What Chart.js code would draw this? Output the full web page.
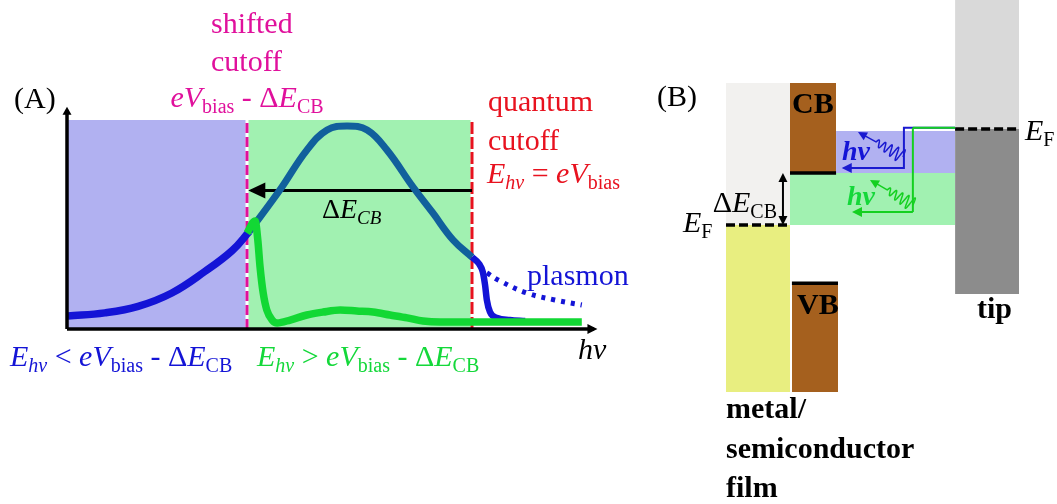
<!DOCTYPE html>
<html>
<head>
<meta charset="utf-8">
<script src="https://cdn.jsdelivr.net/npm/chart.js@4.4.1/dist/chart.umd.min.js"></script>
<style>
  html, body { margin: 0; padding: 0; background: #ffffff; }
  #wrap { position: relative; width: 1057px; height: 504px; overflow: hidden; }
  canvas { position: absolute; left: 0; top: 0; }
</style>
</head>
<body>
<div id="wrap">
  <canvas id="spectrum" width="1057" height="504"></canvas>
  <canvas id="bands" width="1057" height="504"></canvas>
</div>
<script>
// ---------- (A) light emission spectrum: intensity vs photon energy hν ----------
const shiftedCutoff = 4.0;   // eV_bias - ΔE_CB
const quantumCutoff = 9.0;   // eV_bias
const regionTop = 1.0;
const hvAxisEnd = 11.71;
const intensityAxisEnd = 1.048;
const deltaArrowLevel = 0.662;

// emission below the shifted cutoff (blue)
const tailHv = [0.02, 0.84, 1.58, 2.33, 3.07, 3.67, 4.05];
const tailI  = [0.062, 0.077, 0.108, 0.172, 0.276, 0.375, 0.466];

// spectrum continuing between the two cutoffs
const bellHv = [4.05, 4.73, 5.33, 5.78, 6.22, 6.67, 7.11, 7.69, 8.13, 8.58, 9.0];
const bellI  = [0.466, 0.665, 0.856, 0.952, 0.971, 0.952, 0.856, 0.679, 0.555, 0.426, 0.344];

// emission above the shifted cutoff (green)
const greenHv = [4.0, 4.18, 4.24, 4.29, 4.36, 4.44, 4.56, 4.67, 4.96, 5.33, 5.69, 6.07, 6.44, 6.8, 7.18, 7.56, 7.91, 8.29, 9.02, 11.44];
const greenI  = [0.459, 0.517, 0.426, 0.297, 0.172, 0.091, 0.043, 0.029, 0.043, 0.067, 0.081, 0.091, 0.086, 0.081, 0.067, 0.053, 0.038, 0.033, 0.033, 0.033];

// drop at the quantum cutoff
const dropHv = [9.0, 9.16, 9.24, 9.29, 9.33, 9.4, 9.56, 9.84, 10.18];
const dropI  = [0.344, 0.311, 0.273, 0.211, 0.139, 0.081, 0.053, 0.043, 0.038];

// plasmon tail beyond the cutoff
const plasmonHv = [9.33, 9.62, 10.22, 10.84, 11.44];
const plasmonI  = [0.268, 0.230, 0.172, 0.139, 0.115];

// ---------- (B) band diagram: energy (eV) relative to film Fermi level ----------
const filmEF = 0;
const cbEdge = 0.5;          // ΔE_CB
const cbTop = 1.365;
const vbEdge = -0.56;
const bandBottom = -1.606;
const windowTop = 0.904;
const tipEF = 0.923;
const tipTop = 2.163;
const tipBottom = -0.663;
const metalCols = [0, 1];
const semiCols = [1, 1.72];
const vbCols = [1.03, 1.75];
const gapCols = [1.72, 3.58];
const tipCols = [3.58, 4.58];
const deltaArrowX = 0.89;

// tunnelling paths and emitted photons
const bluePathX = [3.58, 2.78, 2.78, 1.84];
const bluePathE = [0.935, 0.935, 0.548, 0.548];
const greenPathX = [3.58, 2.92, 2.92, 2.0];
const greenPathE = [0.935, 0.935, 0.125, 0.125];
const photonBlue = [[2.766, 0.654], [2.0625, 0.894]];
const photonGreen = [[2.922, 0.192], [2.25, 0.433]];

const MAGENTA = '#e0109c';
const RED = '#e8121f';
const BLUE = '#1414d6';
const STEEL = '#11609c';
const GREEN = '#12d834';
const GREEN_TXT = '#14d83a';
const LAVENDER = '#b1b1f1';
const MINT = '#a1f1b1';
const BROWN = '#a5601e';

const pts = (xs, ys) => xs.map((x, i) => ({ x, y: ys[i] }));

function curve(xs, ys, color, width, order, extra) {
  return Object.assign({
    data: pts(xs, ys), borderColor: color, borderWidth: width,
    pointRadius: 0, fill: false, tension: 0.4,
    clip: false, order
  }, extra || {});
}
function seg(xs, ys, color, width, order, extra) {
  return Object.assign({
    data: pts(xs, ys), borderColor: color, borderWidth: width,
    pointRadius: 0, fill: false, tension: 0, clip: false, order
  }, extra || {});
}
function block(x0, x1, y0, y1, color, order) {
  return {
    data: [{ x: x0, y: y1 }, { x: x1, y: y1 }],
    fill: { target: { value: y0 } }, backgroundColor: color,
    borderWidth: 0, pointRadius: 0, tension: 0, clip: false, order
  };
}

// rich text: parts are [text, style] with i = italic, b = bold, s = subscript
function drawRich(ctx, lbl, px, py) {
  const size = lbl.size || 30;
  const sub = Math.round(size * 0.667);
  const drop = Math.round(size * 0.2);
  const fontFor = st => (st.includes('i') ? 'italic ' : '') + (st.includes('b') ? 'bold ' : '') +
    (st.includes('s') ? sub : size) + 'px "Liberation Serif", "Times New Roman", serif';
  let total = 0;
  const widths = lbl.parts.map(([t, st]) => { ctx.font = fontFor(st); const w = ctx.measureText(t).width; total += w; return w; });
  let x = px;
  if (lbl.align === 'center') x -= total / 2;
  else if (lbl.align === 'right') x -= total;
  ctx.fillStyle = lbl.color || '#000';
  ctx.textAlign = 'left';
  ctx.textBaseline = 'alphabetic';
  lbl.parts.forEach(([t, st], i) => {
    ctx.font = fontFor(st);
    ctx.fillText(t, x, py + (st.includes('s') ? drop : 0));
    x += widths[i];
  });
}

function head(ctx, tip, dir, len, hw, color) {
  const nx = -dir.y, ny = dir.x;
  ctx.beginPath();
  ctx.moveTo(tip.x, tip.y);
  ctx.lineTo(tip.x - dir.x * len + nx * hw, tip.y - dir.y * len + ny * hw);
  ctx.lineTo(tip.x - dir.x * len - nx * hw, tip.y - dir.y * len - ny * hw);
  ctx.closePath();
  ctx.fillStyle = color;
  ctx.fill();
}

function arrowAt(ctx, a, b, ds) {
  const dx = b.x - a.x, dy = b.y - a.y, L = Math.hypot(dx, dy) || 1;
  const dir = { x: dx / L, y: dy / L };
  const len = ds.arrow.len, hw = ds.arrow.hw;
  const ext = (ds.borderWidth / 2) * len / hw;
  head(ctx, { x: b.x + dir.x * ext, y: b.y + dir.y * ext }, dir, len, hw, ds.arrow.color || ds.borderColor);
}

// wavy photon arrow: squiggle leaving the tunnelling path, then a straight run to the head
function drawPhoton(ctx, s, t, color) {
  const dx = t.x - s.x, dy = t.y - s.y, L = Math.hypot(dx, dy);
  const ux = dx / L, uy = dy / L, nx = -uy, ny = ux;
  const waveLen = L * 0.6, periods = 4.5, steps = 200;
  ctx.save();
  ctx.strokeStyle = color;
  ctx.lineWidth = 1.5;
  ctx.lineJoin = 'round';
  ctx.beginPath();
  for (let i = 0; i <= steps; i++) {
    const f = i / steps;
    const d = waveLen * f;
    const amp = 7.5 - 4.5 * f;
    const w = amp * Math.sin(2 * Math.PI * periods * f);
    const x = s.x + ux * d + nx * w, y = s.y + uy * d + ny * w;
    if (i === 0) ctx.moveTo(x, y); else ctx.lineTo(x, y);
  }
  ctx.lineTo(t.x - ux * 6, t.y - uy * 6);
  ctx.stroke();
  head(ctx, t, { x: ux, y: uy }, 9, 4.5, color);
  ctx.restore();
}

const decor = {
  id: 'decor',
  afterDatasetsDraw(chart, args, opts) {
    const ctx = chart.ctx;
    ctx.save();
    chart.data.datasets.forEach((ds, i) => {
      if (!ds.arrow) return;
      const p = chart.getDatasetMeta(i).data;
      const n = p.length;
      if (ds.arrow.end) arrowAt(ctx, p[n - 2], p[n - 1], ds);
      if (ds.arrow.start) arrowAt(ctx, p[1], p[0], ds);
    });
    const xs = chart.scales.x, ys = chart.scales.y;
    (opts.photons || []).forEach(ph => {
      drawPhoton(ctx,
        { x: xs.getPixelForValue(ph.from[0]), y: ys.getPixelForValue(ph.from[1]) },
        { x: xs.getPixelForValue(ph.to[0]), y: ys.getPixelForValue(ph.to[1]) }, ph.color);
    });
    ctx.restore();
  },
  afterDraw(chart, args, opts) {
    const ctx = chart.ctx;
    const xs = chart.scales.x, ys = chart.scales.y;
    ctx.save();
    (opts.labels || []).forEach(l => drawRich(ctx, l, xs.getPixelForValue(l.x), ys.getPixelForValue(l.y)));
    ctx.restore();
  }
};

function baseOptions(padding, xr, yr, plug) {
  return {
    responsive: false, animation: false, devicePixelRatio: 1, events: [],
    layout: { padding },
    scales: {
      x: { type: 'linear', min: xr[0], max: xr[1], display: false },
      y: { type: 'linear', min: yr[0], max: yr[1], display: false }
    },
    plugins: { legend: { display: false }, tooltip: { enabled: false }, decor: plug }
  };
}

// ---------- chart A ----------
const labelsA = [
  { x: -1.178, y: 1.057, parts: [['(A)', '']] },
  { x: 3.2, y: 1.416, color: MAGENTA, parts: [['shifted', '']] },
  { x: 3.2, y: 1.234, color: MAGENTA, parts: [['cutoff', '']] },
  { x: shiftedCutoff, y: 1.062, align: 'center', color: MAGENTA,
    parts: [['e', 'i'], ['V', 'i'], ['bias', 's'], [' - ', ''], ['Δ', ''], ['E', 'i'], ['CB', 's']] },
  { x: 9.356, y: 1.043, color: RED, parts: [['quantum', '']] },
  { x: 9.356, y: 0.856, color: RED, parts: [['cutoff', '']] },
  { x: 9.333, y: 0.699, color: RED,
    parts: [['E', 'i'], ['hν', 'is'], [' = ', ''], ['e', 'i'], ['V', 'i'], ['bias', 's']] },
  { x: 5.667, y: 0.531, size: 28, parts: [['Δ', ''], ['E', 'i'], ['CB', 'is']] },
  { x: 10.222, y: 0.211, color: BLUE, parts: [['plasmon', '']] },
  { x: -1.267, y: -0.177, color: BLUE,
    parts: [['E', 'i'], ['hν', 'is'], [' < ', ''], ['e', 'i'], ['V', 'i'], ['bias', 's'], [' - ', ''], ['Δ', ''], ['E', 'i'], ['CB', 's']] },
  { x: 4.222, y: -0.177, color: GREEN_TXT,
    parts: [['E', 'i'], ['hν', 'is'], [' > ', ''], ['e', 'i'], ['V', 'i'], ['bias', 's'], [' - ', ''], ['Δ', ''], ['E', 'i'], ['CB', 's']] },
  { x: 11.356, y: -0.144, parts: [['hν', 'i']] }
];

new Chart(document.getElementById('spectrum'), {
  type: 'line',
  data: {
    datasets: [
      // axes
      seg([0, hvAxisEnd], [0, 0], '#000', 3.5, 0, { arrow: { end: true, len: 10, hw: 5 } }),
      seg([0, 0], [0, intensityAxisEnd], '#000', 3.5, 0, { arrow: { end: true, len: 8, hw: 4.5 } }),
      // spectra
      curve(greenHv, greenI, GREEN, 7.5, 1, { tension: 0, cubicInterpolationMode: 'monotone' }),
      curve(dropHv, dropI, BLUE, 6.5, 2, { tension: 0, cubicInterpolationMode: 'monotone' }),
      curve(plasmonHv, plasmonI, BLUE, 5, 3, { borderDash: [4, 6] }),
      curve(bellHv, bellI, STEEL, 7, 3),
      curve(tailHv, tailI, BLUE, 7.5, 3),
      // ΔE_CB shift arrow
      seg([quantumCutoff, shiftedCutoff + 0.1], [deltaArrowLevel, deltaArrowLevel], '#000', 3, 4,
        { arrow: { end: true, len: 17, hw: 8 } }),
      // cutoff markers
      seg([quantumCutoff, quantumCutoff], [0, regionTop], RED, 3, 5, { borderDash: [12, 3] }),
      seg([quantumCutoff, quantumCutoff], [0, regionTop], '#ffffff', 3, 6),
      seg([shiftedCutoff, shiftedCutoff], [0, regionTop], MAGENTA, 3, 5, { borderDash: [10, 4] }),
      seg([shiftedCutoff, shiftedCutoff], [0, regionTop], '#ffffff', 3, 6),
      // spectral regions
      block(shiftedCutoff, quantumCutoff, 0, regionTop, MINT, 10),
      block(0, shiftedCutoff, 0, regionTop, LAVENDER, 10)
    ]
  },
  options: baseOptions({ left: 67, right: 459, top: 107, bottom: 175 }, [0, 11.8], [0, 1.062], { labels: labelsA }),
  plugins: [decor]
});

// ---------- chart B ----------
const labelsB = [
  { x: -1.078, y: 1.144, parts: [['(B)', '']] },
  { x: 1.031, y: 1.077, parts: [['CB', 'b']] },
  { x: 1.109, y: -0.856, parts: [['VB', 'b']] },
  { x: 0.797, y: 0.125, align: 'right', parts: [['Δ', ''], ['E', 'i'], ['CB', 's']] },
  { x: -0.672, y: -0.067, parts: [['E', 'i'], ['F', 's']] },
  { x: 4.672, y: 0.817, parts: [['E', 'i'], ['F', 's']] },
  { x: 1.8125, y: 0.625, size: 28, color: BLUE, parts: [['hν', 'bi']] },
  { x: 1.89, y: 0.192, size: 28, color: GREEN_TXT, parts: [['hν', 'bi']] },
  { x: 3.922, y: -0.894, parts: [['tip', 'b']] },
  { x: 0, y: -1.856, parts: [['metal/', 'b']] },
  { x: 0, y: -2.24, parts: [['semiconductor', 'b']] },
  { x: 0, y: -2.615, parts: [['film', 'b']] }
];

new Chart(document.getElementById('bands'), {
  type: 'line',
  data: {
    datasets: [
      // tunnelling paths
      seg(greenPathX, greenPathE, '#14d020', 2, 1, {
        arrow: { end: true, len: 10, hw: 5 },
        segment: { borderDash: c => c.p0DataIndex === 1 ? [8, 3] : undefined }
      }),
      seg(bluePathX, bluePathE, '#1a1ad0', 2, 2, { arrow: { end: true, len: 10, hw: 5 } }),
      // ΔE_CB marker
      seg([deltaArrowX, deltaArrowX], [filmEF + 0.02, cbEdge - 0.02], '#000', 2, 3,
        { arrow: { start: true, end: true, len: 9, hw: 4.5 } }),
      // Fermi levels and band edges
      seg(metalCols, [filmEF, filmEF], '#000', 3.5, 4, { borderDash: [9, 4] }),
      seg(tipCols, [tipEF, tipEF], '#000', 3.5, 4, { borderDash: [9, 4] }),
      seg(semiCols, [cbEdge, cbEdge], '#000', 3.5, 4),
      seg(vbCols, [vbEdge, vbEdge], '#000', 3.5, 4),
      // energy windows
      block(gapCols[0], gapCols[1], cbEdge, windowTop, LAVENDER, 10),
      block(semiCols[0], tipCols[0], filmEF, cbEdge, MINT, 10),
      // film
      block(metalCols[0], metalCols[1], filmEF, cbTop, '#f2f1ef', 10),
      block(metalCols[0], metalCols[1], bandBottom, filmEF, '#e8ee80', 10),
      block(semiCols[0], semiCols[1], cbEdge, cbTop, BROWN, 10),
      block(vbCols[0], vbCols[1], bandBottom, vbEdge, BROWN, 10),
      // tip
      block(tipCols[0], tipCols[1], tipEF, tipTop, '#d9d9d9', 10),
      block(tipCols[0], tipCols[1], tipBottom, tipEF, '#8c8c8c', 10)
    ]
  },
  options: baseOptions({ left: 726, right: 37, top: 0, bottom: 112 }, [0, 4.594], [bandBottom, tipTop], {
    labels: labelsB,
    photons: [
      { from: photonBlue[0], to: photonBlue[1], color: '#1a1ad0' },
      { from: photonGreen[0], to: photonGreen[1], color: '#14d020' }
    ]
  }),
  plugins: [decor]
});
</script>
</body>
</html>
